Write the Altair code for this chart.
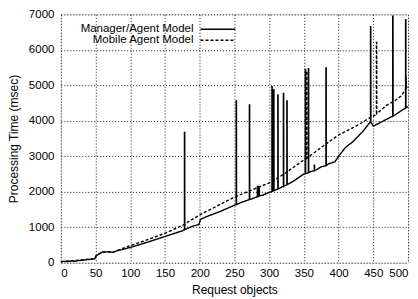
import altair as alt
import pandas as pd

# Manager/Agent Model base curve (x, y)
ma_x = [0, 5, 10, 15, 20, 25, 30, 35, 40, 45, 49, 51, 55, 60, 70, 75, 80, 100, 125, 150, 175, 180, 190, 199,
        201, 210, 230, 250, 260, 275, 290, 300, 320, 335, 350, 360, 375, 385, 395, 400, 410, 420, 435, 445,
        450, 460, 470, 480, 490, 500]
ma_y = [20, 40, 30, 50, 40, 60, 70, 80, 90, 100, 110, 200, 250, 300, 310, 290, 330, 430, 580, 740, 900, 950,
        1030, 1080, 1220, 1300, 1450, 1620, 1700, 1800, 1900, 1980, 2150, 2300, 2500, 2570, 2700, 2780, 2850,
        3000, 3250, 3400, 3700, 3950, 3850, 3950, 4050, 4150, 4280, 4400]
# spikes: x, bottom, top
ma_spike_x = [178, 252.5, 271.5, 283, 285.5, 304, 306.5, 312.5, 320.5, 325.5, 352, 356.5, 365, 381.8, 446, 478, 496.5]
ma_spike_lo = [930, 1640, 1780, 1860, 1880, 2010, 2030, 2080, 2150, 2200, 2510, 2540, 2590, 2740, 3960, 4130, 4360]
ma_spike_hi = [3670, 4560, 4450, 2150, 2150, 4960, 4870, 4730, 4770, 4560, 5450, 5470, 2750, 5490, 6650, 6950, 6850]

# Mobile Agent Model base curve
mb_x = [0, 10, 20, 30, 40, 49, 51, 60, 75, 100, 125, 150, 175, 200, 225, 250, 275, 300, 325, 350, 375, 400,
        425, 445, 452, 455, 470, 480, 490, 500]
mb_y = [30, 50, 60, 80, 100, 120, 210, 300, 300, 480, 650, 830, 1050, 1350, 1600, 1850, 2050, 2250, 2550,
        2900, 3250, 3600, 3850, 4080, 4150, 4350, 4450, 4550, 4700, 4950]
mb_spike_x = [305, 354, 454.5, 497]
mb_spike_lo = [2300, 2950, 4200, 4900]
mb_spike_hi = [4900, 5400, 6210, 5200]

series_names = ["Manager/Agent Model", "Mobile Agent Model"]
x_ticks = list(range(0, 501, 50))
y_ticks = list(range(0, 7001, 1000))


def build(name, bx, by, sx, slo, shi):
    ev = [(x, 0, y) for x, y in zip(bx, by)]
    for x, lo, hi in zip(sx, slo, shi):
        ev += [(x, 1, lo), (x, 2, hi), (x + 0.4, 3, hi), (x + 0.5, 4, lo)]
    ev.sort(key=lambda e: (e[0], e[1]))
    return pd.DataFrame({"x": [e[0] for e in ev], "y": [e[2] for e in ev],
                         "order": list(range(len(ev))), "series": name})


df = pd.concat([build(series_names[0], ma_x, ma_y, ma_spike_x, ma_spike_lo, ma_spike_hi),
                build(series_names[1], mb_x, mb_y, mb_spike_x, mb_spike_lo, mb_spike_hi)])

FONT = "Liberation Sans"
axis_style = dict(grid=True, gridColor="black", gridDash=[1, 2], gridOpacity=0.9, gridWidth=1,
                  labelFont=FONT, titleFont=FONT, labelColor="black", titleColor="black",
                  titleFontWeight="normal", labelFontSize=11.5, titleFontSize=12,
                  ticks=False, domain=False, format="d")

xs = alt.Scale(domain=[0, 500], nice=False)
ys = alt.Scale(domain=[0, 7000], nice=False)
dash_scale = alt.Scale(domain=series_names, range=[[1, 0], [3, 2]])

lines = alt.Chart(df).mark_line(color="black", strokeWidth=1.4).encode(
    x=alt.X("x:Q", scale=xs, axis=alt.Axis(values=x_ticks, title="Request objects",
                                            labelPadding=5, titlePadding=5, **axis_style)),
    y=alt.Y("y:Q", scale=ys, axis=alt.Axis(values=y_ticks, title="Processing Time (msec)",
                                            labelPadding=7, titlePadding=8, **axis_style)),
    order="order:Q",
    detail="series:N",
    strokeDash=alt.StrokeDash("series:N", scale=dash_scale, legend=None),
)

leg = pd.DataFrame({"label": series_names, "ypx": [15, 26]})
leg_text = alt.Chart(leg).mark_text(align="right", baseline="middle", fontSize=11.5, font=FONT,
                                    color="black").encode(
    x=alt.value(133), y=alt.Y("ypx:Q", scale=None), text="label:N")
leg_line = alt.Chart(leg).mark_rule(color="black", strokeWidth=1.4).encode(
    x=alt.value(140), x2=alt.value(175), y=alt.Y("ypx:Q", scale=None),
    strokeDash=alt.StrokeDash("label:N", scale=dash_scale, legend=None))

chart = alt.layer(lines, leg_text, leg_line).properties(
    width=348, height=249, autosize="none",
    padding={"left": 53, "top": 6, "right": 2, "bottom": 36},
).configure_view(stroke="black", strokeWidth=1.5).configure(background="white")

chart.save("out.html", embed_options={"renderer": "svg", "actions": False})
